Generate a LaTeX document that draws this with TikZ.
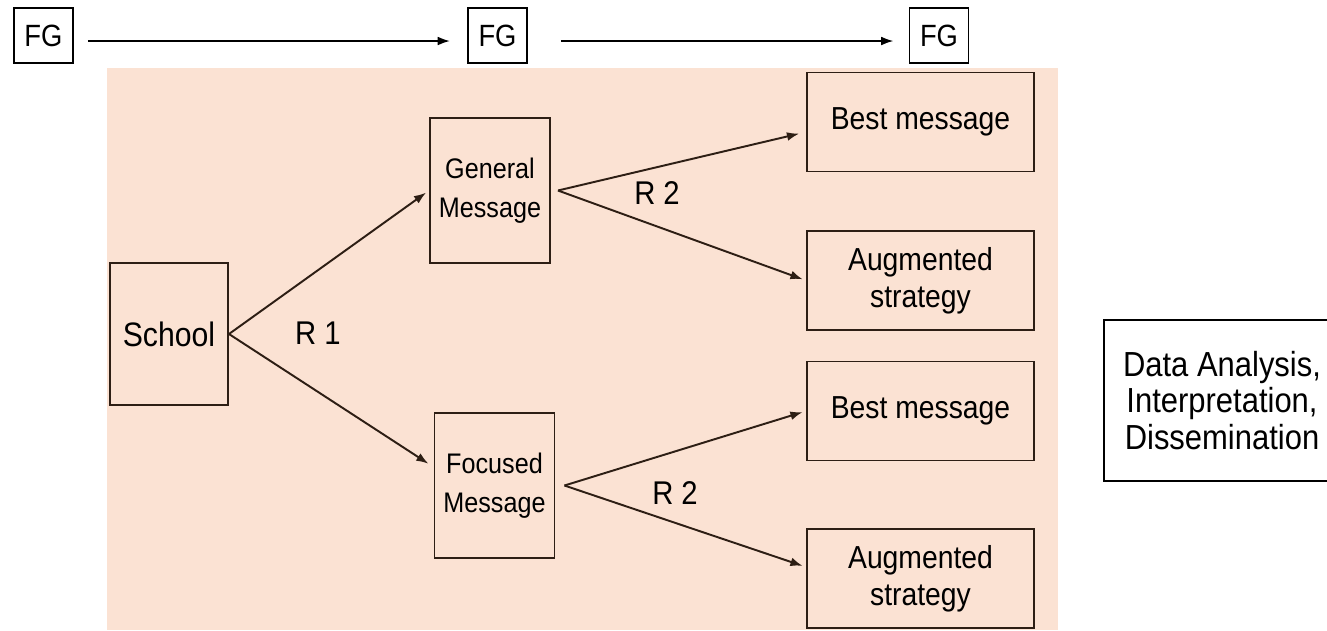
\documentclass[tikz,border=0pt]{standalone}
\usepackage{fontspec}
\setmainfont{Liberation Sans}[FakeStretch=0.89]
\usetikzlibrary{arrows.meta}
\definecolor{peach}{RGB}{251,226,211}
\definecolor{ink}{RGB}{45,30,20}
\begin{document}
\begin{tikzpicture}[
    box/.style={draw=ink, line width=1.1pt, align=center, inner sep=0pt},
    fgbox/.style={draw=black, line width=1.1pt, inner sep=0pt, minimum width=1.18cm, minimum height=1.1cm, font=\fontsize{17.5}{18}\selectfont},
    msgbox/.style={box, minimum width=2.4cm, minimum height=2.9cm, font=\fontsize{16.1}{22}\selectfont},
    outbox/.style={box, minimum width=4.54cm, minimum height=1.98cm, font=\fontsize{18.1}{21}\selectfont},
    flow/.style={-{Latex[length=7pt,width=5pt]}, line width=1.1pt, draw=ink, shorten >=2pt},
    lbl/.style={font=\fontsize{18.7}{20}\selectfont},
    ]
    \useasboundingbox (0,0) rectangle (26.54,-12.6);
    \fill[peach] (2.14,-1.36) rectangle (21.16,-12.6);

    % focus groups along the top
    \node[fgbox] (fgA) at (0.87,-0.71) {FG};
    \node[fgbox] (fgB) at (9.95,-0.71) {FG};
    \node[fgbox] (fgC) at (18.78,-0.71) {FG};
    \draw[flow, draw=black, shorten <=0.28cm, shorten >=0.34cm] ([yshift=-0.11cm]fgA.east) -- ([yshift=-0.11cm]fgB.west);
    \draw[flow, draw=black, shorten <=0.66cm, shorten >=0.3cm] ([yshift=-0.11cm]fgB.east) -- ([yshift=-0.11cm]fgC.west);

    % round 1
    \node[box, minimum width=2.36cm, minimum height=2.84cm, font=\fontsize{19.3}{20}\selectfont] (school) at (3.38,-6.68) {School};
    \node[msgbox] (gen) at (9.80,-3.81) {General\\Message};
    \node[msgbox] (foc) at (9.89,-9.71) {Focused\\Message};
    \node[lbl] (rA) at (6.36,-6.66) {R 1};
    \draw[flow] (school.east) -- (gen.west);
    \draw[flow, shorten >=0.12cm] (school.east) -- ([yshift=0.37cm]foc.west);

    % round 2
    \node[outbox] (best1) at (18.41,-2.44) {Best message};
    \node[outbox] (aug1) at (18.41,-5.61) {Augmented\\strategy};
    \node[outbox] (best2) at (18.41,-8.22) {Best message};
    \node[outbox] (aug2) at (18.41,-11.57) {Augmented\\strategy};
    \coordinate (gsplit) at ([xshift=0.14cm]gen.east);
    \coordinate (fsplit) at ([xshift=0.18cm]foc.east);
    \node[lbl] (rB) at (13.14,-3.86) {R 2};
    \node[lbl] (rC) at (13.50,-9.86) {R 2};
    \draw[flow, shorten >=0.14cm] (gsplit) -- ([yshift=-0.2cm]best1.west);
    \draw[flow] (gsplit) -- (aug1.west);
    \draw[flow] (fsplit) -- (best2.west);
    \draw[flow] (fsplit) -- ([yshift=0.23cm]aug2.west);

    % last step
    \node[box, draw=black, minimum width=4.72cm, minimum height=3.22cm, font=\fontsize{19.8}{21}\selectfont] (data) at (24.44,-8.01) {Data Analysis,\\Interpretation,\\Dissemination};
\end{tikzpicture}
\end{document}
